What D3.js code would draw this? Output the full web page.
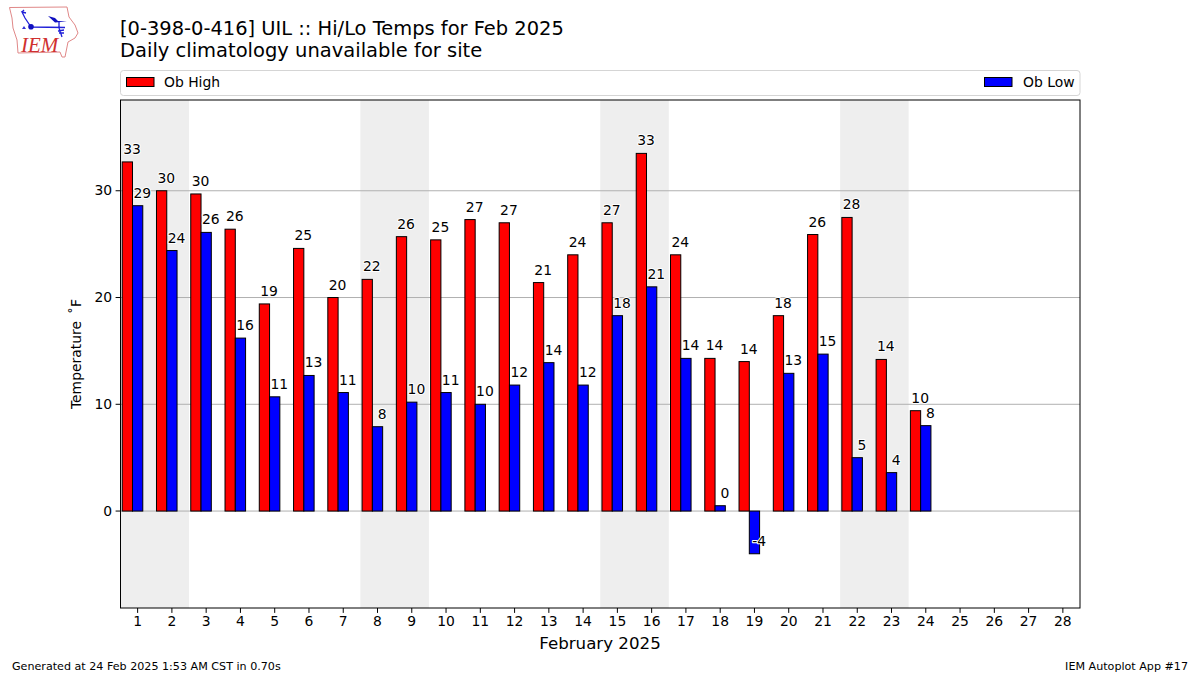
<!DOCTYPE html>
<html><head><meta charset="utf-8">
<script src="https://cdn.jsdelivr.net/npm/d3@7/dist/d3.min.js"></script>
<style>html,body{margin:0;background:#fff}svg{display:block}text{font-family:"DejaVu Sans",sans-serif;fill:#000}</style>
</head><body><svg id="c" width="1200" height="675"></svg>
<script>
const days = d3.range(1, 29);
const highs = [32.7,30,29.7,26.4,19.4,24.6,20,21.7,25.7,25.4,27.3,27,21.4,24,27,33.5,24,14.3,14,18.3,25.9,27.5,14.2,9.4];
const lows = [28.6,24.4,26.1,16.2,10.7,12.7,11.1,7.9,10.2,11.1,10,11.8,13.9,11.8,18.3,21,14.3,0.5,-4,12.9,14.7,5,3.6,8];
const highLabels = ["33","30","30","26","19","25","20","22","26","25","27","27","21","24","27","33","24","14","14","18","26","28","14","10"];
const lowLabels = ["29","24","26","16","11","13","11","8","10","11","10","12","14","12","18","21","14","0","-4","13","15","5","4","8"];
const weekends = [[0.5,2.5],[7.5,9.5],[14.5,16.5],[21.5,23.5]];
const yTicks = [0,10,20,30];
const title1 = "[0-398-0-416] UIL :: Hi/Lo Temps for Feb 2025";
const title2 = "Daily climatology unavailable for site";
const xLabel = "February 2025";
const yLabel = "Temperature \u2009\u02DAF";
const footLeft = "Generated at 24 Feb 2025 1:53 AM CST in 0.70s";
const footRight = "IEM Autoplot App #17";

const svg = d3.select("#c");
const L=120.5,R=1080,T=100,B=608;
const x = d3.scaleLinear().domain([0.5,28.5]).range([L,R]);
const y = d3.scaleLinear().domain([-9.08,38.5]).range([B,T]);
const BW = 0.3;

svg.append("g").selectAll("rect").data(weekends).join("rect")
  .attr("x",d=>x(d[0])).attr("width",d=>x(d[1])-x(d[0])).attr("y",T).attr("height",B-T).attr("fill","#eeeeee");
svg.append("g").selectAll("line").data(yTicks).join("line")
  .attr("x1",L).attr("x2",R).attr("y1",d=>y(d)).attr("y2",d=>y(d)).attr("stroke","#b0b0b0").attr("stroke-width",1);

function bars(vals, off, color){
  svg.append("g").selectAll("rect").data(vals).join("rect")
    .attr("x",(d,i)=>x(days[i]+off)).attr("width",x(BW)-x(0))
    .attr("y",d=>y(Math.max(d,0))).attr("height",d=>Math.abs(y(d)-y(0)))
    .attr("fill",color).attr("stroke","#000").attr("stroke-width",1);
}
bars(highs,-0.45,"#ff0000");
bars(lows,-0.15,"#0000ff");

function labels(vals, txt, off){
  svg.append("g").selectAll("text").data(vals).join("text")
    .attr("x",(d,i)=>x(days[i]+off)-0.5).attr("y",d=>y(d+0.75))
    .attr("text-anchor","middle").attr("font-size",13.9)
    .attr("paint-order","stroke").attr("stroke","#fff").attr("stroke-width",2).attr("stroke-linejoin","round")
    .text((d,i)=>txt[i]);
}
labels(highs,highLabels,-0.15);
labels(lows,lowLabels,0.15);

svg.append("rect").attr("x",L).attr("y",T).attr("width",R-L).attr("height",B-T).attr("fill","none").attr("stroke","#000").attr("stroke-width",1);

const xa = svg.append("g").attr("transform",`translate(0,${B})`)
  .call(d3.axisBottom(x).tickValues(days).tickFormat(d3.format("d")).tickSize(4.9).tickPadding(3.5).offset(0));
const ya = svg.append("g").attr("transform",`translate(${L},0)`)
  .call(d3.axisLeft(y).tickValues(yTicks).tickFormat(d3.format("d")).tickSize(4.9).tickPadding(3.5).offset(0));
[xa,ya].forEach(a=>{a.select(".domain").remove();a.selectAll("text").attr("font-size",13.9);a.attr("font-family",null).attr("font-size",null);});

svg.append("text").attr("x",120).attr("y",35).attr("font-size",19.44).text(title1);
svg.append("text").attr("x",120).attr("y",57).attr("font-size",19.5).text(title2);
svg.append("text").attr("x",600).attr("y",649).attr("text-anchor","middle").attr("font-size",16.67).text(xLabel);
svg.append("text").attr("transform","translate(81,354) rotate(-90)").attr("text-anchor","middle").attr("font-size",13.9).text(yLabel);
svg.append("text").attr("x",12).attr("y",670).attr("font-size",11.14).text(footLeft);
svg.append("text").attr("x",1188).attr("y",670).attr("text-anchor","end").attr("font-size",11.14).text(footRight);

// legend
svg.append("rect").attr("x",120.5).attr("y",70.5).attr("width",959.5).attr("height",25).attr("rx",3).attr("fill","#fff").attr("stroke","#d5d5d5");
const legend = [["Ob High","#ff0000",126.5,164],["Ob Low","#0000ff",984.5,1023]];
legend.forEach(([t,c,sx,tx])=>{
  svg.append("rect").attr("x",sx).attr("y",77.5).attr("width",27.5).attr("height",9).attr("fill",c).attr("stroke","#000");
  svg.append("text").attr("x",tx).attr("y",86.5).attr("font-size",13.9).text(t);
});

// logo
const logo = svg.append("g");
logo.append("path").attr("d","M9.5,7.5 L67,7 L69,17 L75,25 L78,33 L75,38 L68,42 L67,47 L65,57 L62,57 L60,52 L18,53 L17,40 L13,28 L12,18 Z")
  .attr("fill","none").attr("stroke","#e08888").attr("stroke-width",1);
logo.append("path").attr("d","M31,27 L65,27.5 M59,21 L59,28 M59,28 L62,37 M58,31 L64,30 M59,33 L64,33 M31,27 L25,18 L22,12 L26,13 M22,12 L24,10").attr("fill","none").attr("stroke","#2020d8").attr("stroke-width",1.3);
logo.append("circle").attr("cx",31).attr("cy",26.7).attr("r",2.8).attr("fill","#1010c0");
logo.append("path").attr("d","M48,16 L55,18 L58,21 L67,21.5 L55,22.5 Z").attr("fill","#1010c0");
logo.append("path").attr("d","M24,26 L26,29 L22,29 Z").attr("fill","#3030d8");
logo.append("text").attr("x",21).attr("y",52).attr("font-size",21).style("font-family","'Liberation Serif'").style("font-style","italic").style("fill","#d03030").text("IEM");
</script></body></html>
